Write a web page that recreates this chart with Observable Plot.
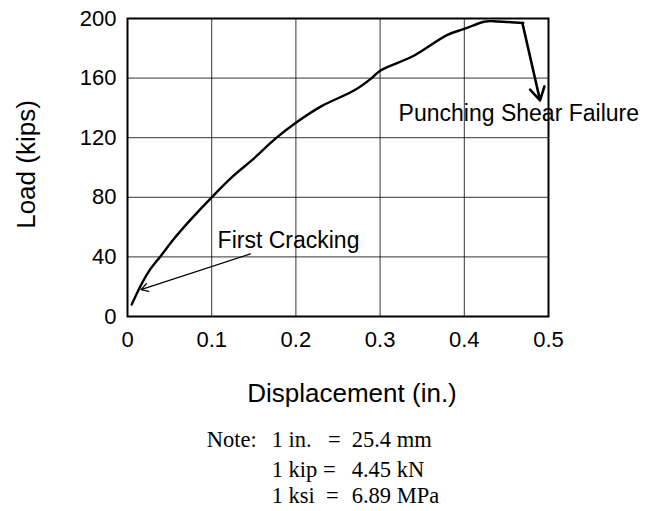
<!DOCTYPE html>
<html>
<head>
<meta charset="utf-8">
<script src="https://cdn.jsdelivr.net/npm/d3@7"></script>
<script src="https://cdn.jsdelivr.net/npm/@observablehq/plot@0.6"></script>
<style>
  body { margin: 0; background: #fff; }
  #chart svg { display: block; }
</style>
</head>
<body>
<div id="chart"></div>
<script>
// Load–displacement curve
const displacement = [0.005, 0.015, 0.025, 0.04, 0.055, 0.075, 0.1, 0.125, 0.15, 0.175, 0.2, 0.23, 0.27, 0.29, 0.3, 0.34, 0.38, 0.4, 0.425, 0.44, 0.47];
const load =         [8,     20,    30,    41,   52,    65,    80,  94,    106,  119,   130, 141,  152,  160,  165, 175,  189,  193, 198,   198,  197];

const xTicks = [0, 0.1, 0.2, 0.3, 0.4, 0.5];
const yTicks = [0, 40, 80, 120, 160, 200];

// annotations
const annoText = ["First Cracking", "Punching Shear Failure"];
const annoX = [0.107, 0.322];
const annoY = [51, 136];
// arrow 1: first cracking, arrow 2: punching shear failure
const crackArrow = [{x1: 0.146, y1: 42, x2: 0.016, y2: 18}];
const failArrow = [{x1: 0.469, y1: 197, x2: 0.49, y2: 145}];

// unit note
const noteHead = ["Note:", "", ""];
const noteUnit = ["1 in.", "1 kip", "1 ksi"];
const noteValue = ["25.4 mm", "4.45 kN", "6.89 MPa"];

const curve = displacement.map((d, i) => ({x: d, y: load[i]}));
const annos = annoText.map((t, i) => ({t, x: annoX[i], y: annoY[i]}));

const sans = "'Liberation Sans', Arial, Helvetica, sans-serif";

const plot = Plot.plot({
  width: 648,
  height: 420,
  marginTop: 18,
  marginLeft: 127,
  marginRight: 100,
  marginBottom: 104,
  style: {fontFamily: sans, background: "#fff", color: "#000", overflow: "visible"},
  x: {domain: [0, 0.5]},
  y: {domain: [0, 200]},
  marks: [
    Plot.gridX(xTicks, {stroke: "#000", strokeOpacity: 0.8, strokeWidth: 1}),
    Plot.gridY(yTicks, {stroke: "#000", strokeOpacity: 0.8, strokeWidth: 1}),
    Plot.frame({stroke: "#000", strokeWidth: 2}),
    Plot.axisX({ticks: xTicks, tickSize: 0, tickPadding: 15, fontSize: 22, label: null,
      tickFormat: d => d === 0 ? "0" : d.toFixed(1)}),
    Plot.axisY({ticks: yTicks, tickSize: 0, tickPadding: 11, fontSize: 22, label: null}),
    Plot.line(curve, {x: "x", y: "y", stroke: "#000", strokeWidth: 2.4, curve: "catmull-rom"}),
    Plot.arrow(crackArrow, {x1: "x1", y1: "y1", x2: "x2", y2: "y2", stroke: "#000",
      strokeWidth: 1.2, headLength: 10}),
    Plot.arrow(failArrow, {x1: "x1", y1: "y1", x2: "x2", y2: "y2", stroke: "#000",
      strokeWidth: 2.6, headLength: 8.5, headAngle: 60}),
    Plot.text(annos, {x: "x", y: "y", text: "t", textAnchor: "start", fontSize: 23, fill: "#000"}),
    Plot.text(["Displacement (in.)"], {frameAnchor: "bottom", textAnchor: "middle", lineAnchor: "middle",
      dx: 14, dy: 77, fontSize: 26, fill: "#000"}),
    Plot.text(["Load (kips)"], {frameAnchor: "left", textAnchor: "middle", lineAnchor: "middle",
      rotate: -90, dx: -101, dy: -3, fontSize: 26, fill: "#000"})
  ]
});
document.getElementById("chart").appendChild(plot);

// unit note below the chart
const noteSvg = d3.select("#chart").append("svg")
  .attr("width", 648).attr("height", 91)
  .style("font-family", "'Liberation Serif', 'Times New Roman', serif")
  .style("font-size", "22.5px");
const baselines = [26.7, 56.7, 83];
const eqX = [328, 323, 326];
noteHead.forEach((t, i) => {
  noteSvg.append("text").attr("x", 206.7).attr("y", baselines[i]).text(t);
  noteSvg.append("text").attr("x", 271.7).attr("y", baselines[i]).text(noteUnit[i]);
  noteSvg.append("text").attr("x", eqX[i]).attr("y", baselines[i]).text("=");
  noteSvg.append("text").attr("x", 351.7).attr("y", baselines[i]).text(noteValue[i]);
});
</script>
</body>
</html>
